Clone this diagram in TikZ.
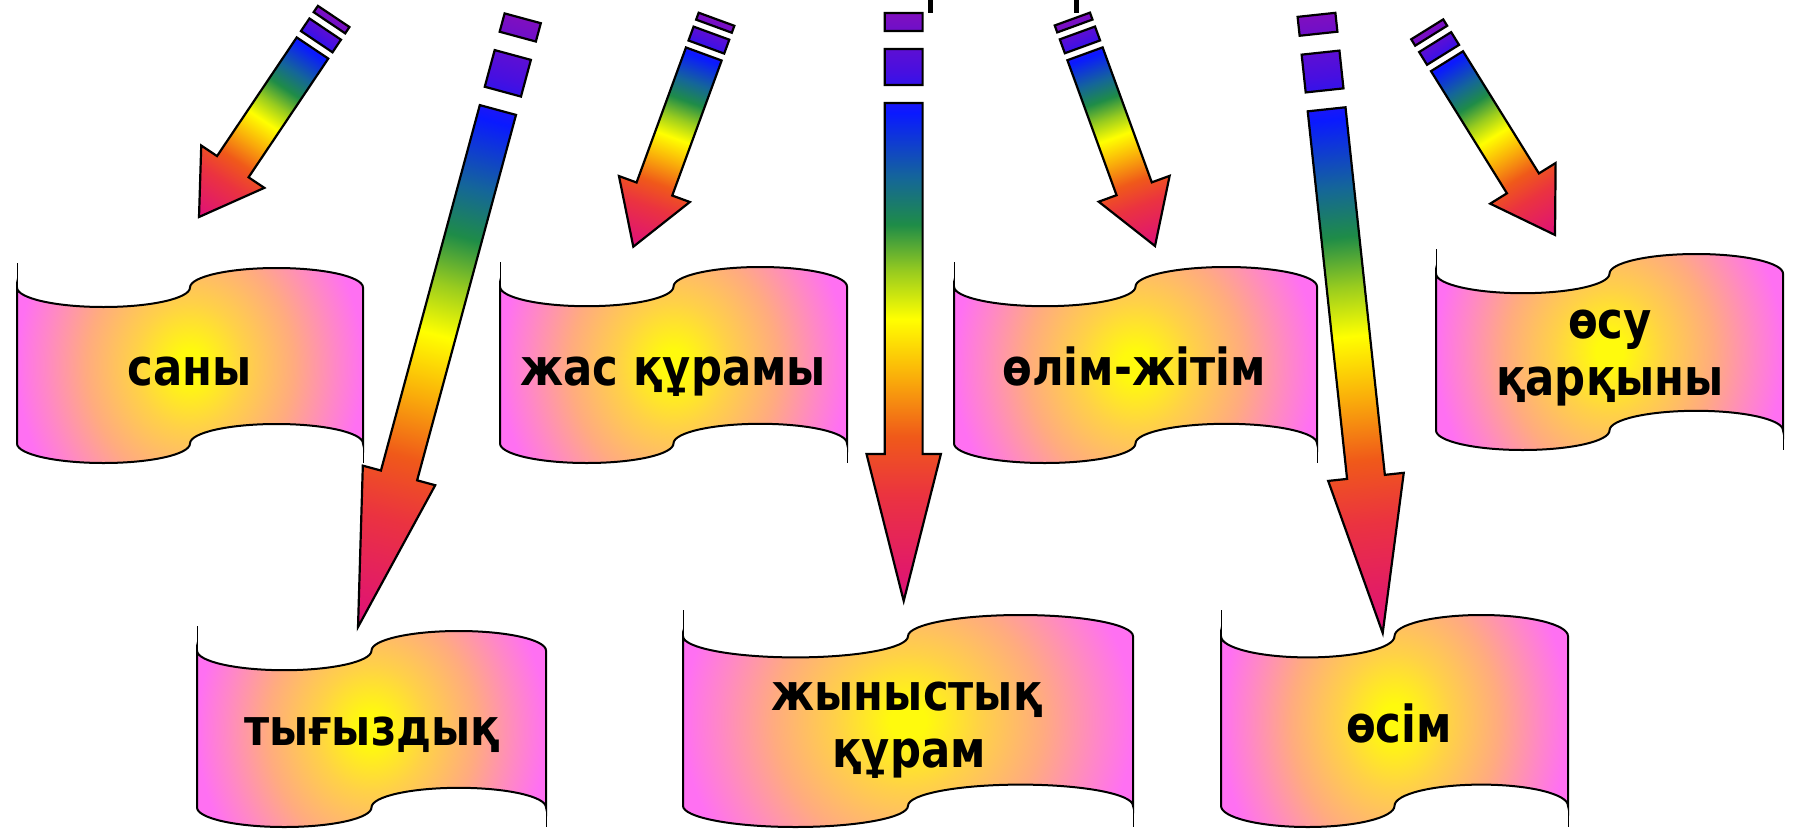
\documentclass[tikz,border=0pt]{standalone}
\usepackage{fontspec}
\newfontfamily\lblfont{DejaVu Sans}[FakeStretch=0.85]
\pgfdeclarehorizontalshading{rainbow}{100bp}{%
 rgb(0bp)=(0.50,0.06,0.75);
 rgb(25bp)=(0.50,0.06,0.75);
 rgb(30bp)=(0.28,0.06,0.88);
 rgb(33.5bp)=(0.04,0.10,1.00);
 rgb(39bp)=(0.08,0.40,0.60);
 rgb(43bp)=(0.12,0.55,0.28);
 rgb(47bp)=(0.60,0.80,0.12);
 rgb(51bp)=(1.00,1.00,0.00);
 rgb(56bp)=(0.98,0.68,0.04);
 rgb(61bp)=(0.94,0.35,0.10);
 rgb(66bp)=(0.92,0.20,0.25);
 rgb(75bp)=(0.87,0.06,0.48);
 rgb(100bp)=(0.87,0.06,0.48)}
\pgfdeclareradialshading{bannershade}{\pgfpoint{0bp}{0bp}}{%
 rgb(0bp)=(1,0.98,0.05);
 rgb(2bp)=(1,0.98,0.05);
 rgb(8bp)=(1,0.82,0.28);
 rgb(15bp)=(1,0.67,0.50);
 rgb(21bp)=(1,0.53,0.78);
 rgb(25bp)=(1,0.44,0.95);
 rgb(50bp)=(1,0.44,0.95)}
\tikzset{
 arrowline/.style={draw=black, line width=1.1pt, line join=miter},
 bannerline/.style={draw=black, line width=1pt},
 extline/.style={draw=black, line width=0.5pt},
 lbl/.style={font=\lblfont\bfseries\fontsize{25.5}{28}\selectfont, anchor=base, inner sep=0pt}
}
% #1,#2 tail-body centre; #3,#4 tip; #5 body width; #6 head width; #7 head length; #8 stripe unit
\newcommand\stripedarrow[8]{%
 \pgfmathsetmacro\aang{atan2((#2)-(#4),(#3)-(#1))}%
 \pgfmathsetmacro\alen{veclen((#3)-(#1),(#4)-(#2))}%
 \pgfmathsetmacro\abody{\alen-(#7)}%
 \pgfmathsetmacro\aw{(#5)/2}%
 \pgfmathsetmacro\ah{(#6)/2}%
 \pgfmathsetmacro\sa{-5*(#8)}\pgfmathsetmacro\sb{-4*(#8)}%
 \pgfmathsetmacro\sc{-3*(#8)}\pgfmathsetmacro\sd{-(#8)}%
 \begin{scope}[transform canvas={shift={(#1,#2)},rotate=\aang}]
  \shade[shading=rainbow, arrowline]
   (\sa,-\aw) rectangle (\sb,\aw)
   (\sc,-\aw) rectangle (\sd,\aw)
   (0,-\aw) -- (\abody,-\aw) -- (\abody,-\ah) -- (\alen,0) -- (\abody,\ah) -- (\abody,\aw) -- (0,\aw) -- cycle;
 \end{scope}}
% #1 x0, #2 ytop, #3 W, #4 H
\newcommand\banner[4]{%
 \pgfmathsetmacro\ba{(#4)/10}%
 \pgfmathsetmacro\bq{(#3)/4}%
 \pgfmathsetmacro\bk{0.5523*\bq}%
 \pgfmathsetmacro\bka{0.5523*\ba}%
 \pgfmathsetmacro\bxa{#1}\pgfmathsetmacro\bxb{#1+\bq}\pgfmathsetmacro\bxc{#1+2*\bq}%
 \pgfmathsetmacro\bxd{#1+3*\bq}\pgfmathsetmacro\bxe{#1+#3}%
 \pgfmathsetmacro\byt{#2+\ba}\pgfmathsetmacro\byb{#2+#4-\ba}%
 \pgfmathsetmacro\bym{#2+#4/2}%
 \pgfmathsetmacro\bsa{#2+#4/2-#4}\pgfmathsetmacro\bsb{#2+#4/2+#4}%
 \def\bpath{(\bxa,\byt) .. controls (\bxa,\byt+\bka) and (\bxb-\bk,\byt+\ba) .. (\bxb,\byt+\ba)
  .. controls (\bxb+\bk,\byt+\ba) and (\bxc,\byt+\bka) .. (\bxc,\byt)
  .. controls (\bxc,\byt-\bka) and (\bxd-\bk,\byt-\ba) .. (\bxd,\byt-\ba)
  .. controls (\bxd+\bk,\byt-\ba) and (\bxe,\byt-\bka) .. (\bxe,\byt)
  -- (\bxe,\byb)
  .. controls (\bxe,\byb-\bka) and (\bxd+\bk,\byb-\ba) .. (\bxd,\byb-\ba)
  .. controls (\bxd-\bk,\byb-\ba) and (\bxc,\byb-\bka) .. (\bxc,\byb)
  .. controls (\bxc,\byb+\bka) and (\bxb+\bk,\byb+\ba) .. (\bxb,\byb+\ba)
  .. controls (\bxb-\bk,\byb+\ba) and (\bxa,\byb+\bka) .. (\bxa,\byb) -- cycle}%
 \begin{scope}
  \clip \bpath;
  \shade[shading=bannershade] (\bxa,\bsa) rectangle (\bxe,\bsb);
 \end{scope}
 \draw[bannerline] \bpath;
 \draw[extline] (\bxa,\byt) -- (\bxa,#2-5);
 \draw[extline] (\bxe,\byb) -- (\bxe,#2+#4);
}
\begin{document}
\begin{tikzpicture}[x=0.5pt,y=-0.5pt]
\useasboundingbox (0,0) rectangle (1797,835);
% banners
\banner{17}{268}{346}{195}
\banner{500}{267}{347}{196}
\banner{954}{267}{363}{196}
\banner{1436}{254}{347}{196}
\banner{197}{631}{349}{196}
\banner{683}{615}{450}{212}
\banner{1221}{615}{347}{212}
% labels
\node[lbl] (sany) at (190,385) {саны};
\node[lbl] (zhas) at (673,385) {жас құрамы};
\node[lbl] (olim) at (1134,385) {өлім-жітім};
\node[lbl] (osu1) at (1610,338) {өсу};
\node[lbl] (osu2) at (1610,395) {қарқыны};
\node[lbl] (tyg) at (372,745) {тығыздық};
\node[lbl] (zhyn1) at (907,710) {жыныстық};
\node[lbl] (zhyn2) at (909,767) {құрам};
\node[lbl] (osim) at (1399,742) {өсім};
% arrows
\stripedarrow{312.5}{48}{199}{217}{38}{76}{60.6}{7.6}
\stripedarrow{497.9}{110}{358}{627}{37.5}{75}{157}{19}
\stripedarrow{703.8}{54}{633.3}{246.7}{38}{75.5}{61.4}{7.4}
\stripedarrow{903.7}{103}{903.7}{601}{37.8}{74.4}{147}{18}
\stripedarrow{1085}{53.8}{1155}{246}{37.5}{75.5}{60.9}{7.4}
\stripedarrow{1326.6}{109.3}{1382.7}{633}{38}{76}{157}{19}
\stripedarrow{1447}{61.2}{1555}{235}{37.7}{77}{60.8}{7.5}
% cut-off title fragments at the top edge
\fill[black] (928,0) rectangle (932.5,12.5);
\fill[black] (1073.5,0) rectangle (1079,12.5);
\end{tikzpicture}
\end{document}
